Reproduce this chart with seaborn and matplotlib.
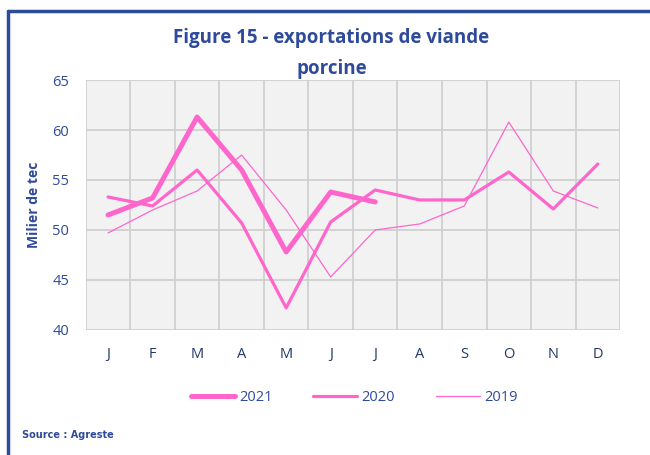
import numpy as np
import pandas as pd
import seaborn as sns
import matplotlib.pyplot as plt
from matplotlib.lines import Line2D

# Data (milliers de tec)
mois = ["J", "F", "M", "A", "M", "J", "J", "A", "S", "O", "N", "D"]
v2021 = [51.5, 53.2, 61.3, 56.0, 47.8, 53.8, 52.8]
v2020 = [53.3, 52.4, 56.0, 50.7, 42.2, 50.8, 54.0, 53.0, 53.0, 55.8, 52.1, 56.6]
v2019 = [49.7, 52.0, 53.9, 57.5, 52.0, 45.3, 50.0, 50.6, 52.4, 60.8, 53.9, 52.2]

df = pd.concat([
    pd.DataFrame({"idx": range(len(v)), "val": v, "annee": a})
    for a, v in [("2021", v2021), ("2020", v2020), ("2019", v2019)]
])

navy = "#2E4A9A"
pink = "#FF66CC"

sns.set_theme(style="white")
plt.rcParams['font.family'] = ['Open Sans', 'DejaVu Sans']

fig = plt.figure(figsize=(6.5, 4.55), dpi=100)
ax = fig.add_axes([0.132, 0.275, 0.822, 0.549])
ax.set_facecolor("#F2F2F2")

sns.lineplot(data=df, x="idx", y="val", hue="annee", size="annee",
             palette={"2021": pink, "2020": pink, "2019": pink},
             sizes={"2021": 3.6, "2020": 2.3, "2019": 0.9},
             ax=ax, legend=False, zorder=3)

ax.set_xlim(-0.5, 11.5)
ax.set_ylim(40, 65)
ax.set_yticks(range(40, 66, 5))
ax.set_xticks(range(12))
ax.set_xticklabels(mois)
ax.set_xticks(np.arange(-0.5, 12, 1), minor=True)
ax.grid(axis="y", which="major", color="#D0D0D0", lw=1.3)
ax.grid(axis="x", which="minor", color="#D0D0D0", lw=1.3)
ax.grid(axis="x", which="major", visible=False)
ax.tick_params(axis="both", which="both", length=0)
ax.tick_params(axis="y", colors=navy, labelsize=10.5, pad=12)
ax.tick_params(axis="x", colors="#1F3864", labelsize=10.5, pad=12)
for s in ax.spines.values():
    s.set_visible(False)
ax.set_xlabel("")
ax.set_ylabel("Milier de tec", color=navy, fontsize=10, fontweight="bold", labelpad=8)

fig.text(0.51, 0.905, "Figure 15 - exportations de viande", ha="center",
         color=navy, fontsize=13.5, fontweight="bold")
fig.text(0.51, 0.838, "porcine", ha="center", color=navy, fontsize=13.5, fontweight="bold")

handles = [Line2D([], [], color=pink, lw=w, solid_capstyle="round") for w in (3.6, 2.3, 0.9)]
fig.legend(handles, ["2021", "2020", "2019"], loc="center", bbox_to_anchor=(0.545, 0.127),
           ncol=3, frameon=False, fontsize=10.5, handlelength=3.0, handletextpad=0.3,
           columnspacing=2.8, labelcolor=navy)

fig.text(0.034, 0.037, "Source : Agreste", color=navy, fontsize=7, fontweight="bold",
         family=["Liberation Sans Narrow", "DejaVu Sans"])

# frame around the figure (left and top visible)
fig.add_artist(Line2D([0.0123, 0.0123], [0, 0.976], color=navy, lw=2.5, transform=fig.transFigure))
fig.add_artist(Line2D([0.0123, 1.0], [0.976, 0.976], color=navy, lw=2.5, transform=fig.transFigure))

fig.savefig("out.png", dpi=100)
